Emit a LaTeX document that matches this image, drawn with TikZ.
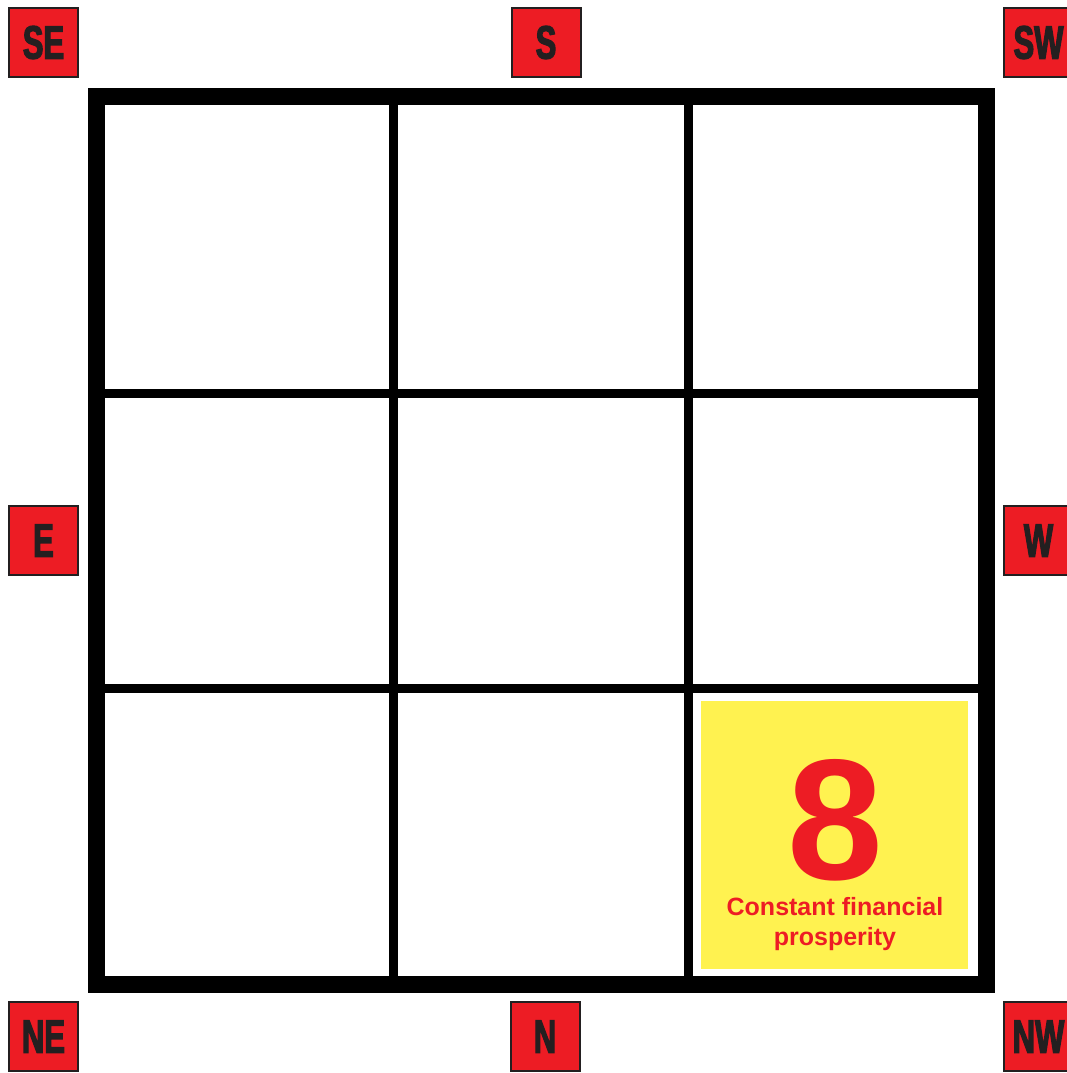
\documentclass[tikz,border=0pt]{standalone}
\usepackage{fontspec}
\setmainfont{Liberation Sans}
\newfontfamily\dirfont[FakeStretch=0.66,FakeBold=2.5]{Liberation Sans}
\usepackage{xcolor}
\usetikzlibrary{positioning}
\definecolor{fsred}{HTML}{ED1C24}
\definecolor{fsyellow}{HTML}{FFF250}
\definecolor{fsink}{HTML}{231F20}
\tikzset{
  dirbox/.style={rectangle, fill=fsred, draw=fsink, line width=2pt, minimum size=69pt, inner sep=0pt,
    text=fsink, font=\dirfont\bfseries\fontsize{47}{47}\selectfont},
  outerframe/.style={draw=black, line width=17pt},
  innerline/.style={draw=black, line width=9pt},
  luckycell/.style={rectangle, fill=fsyellow, minimum width=267pt, minimum height=268pt, inner sep=0pt},
  bignum/.style={text=fsred, font=\bfseries\fontsize{172}{172}\selectfont, inner sep=0pt, text depth=0pt},
  caption/.style={text=fsred, align=center, font=\bfseries\fontsize{25}{30}\selectfont, inner sep=0pt},
  lshu/.style={x=1pt, y=-1pt}
}
\begin{document}
\begin{tikzpicture}[lshu]
  \useasboundingbox (0,0) rectangle (1067,1073);
  % grid
  \foreach \p in {393.5,688} {
    \draw[innerline] (\p,96) -- (\p,984.5);
    \draw[innerline] (96.5,\p) -- (986,\p);
  }
  \draw[outerframe] (96.5,96) rectangle (986,984.5);
  % the lucky cell
  \node[luckycell] (lucky) at (834.5,835) {};
  \node[bignum, anchor=base] (num) at (835,879) {8};
  \node[caption, below=18pt of num] (cap) {Constant financial\\prosperity};
  % directions
  \node[dirbox] (se) at (43.5,42.5) {SE};
  \node[dirbox] (s) at (546,42.5) {S};
  \node[dirbox] (sw) at (1038.5,42.5) {SW};
  \node[dirbox] (e) at (43.5,540.5) {E};
  \node[dirbox] (w) at (1038.5,540.5) {W};
  \node[dirbox] (ne) at (43.5,1036.5) {NE};
  \node[dirbox] (n) at (545,1036.5) {N};
  \node[dirbox] (nw) at (1038.5,1036.5) {NW};
\end{tikzpicture}
\end{document}
